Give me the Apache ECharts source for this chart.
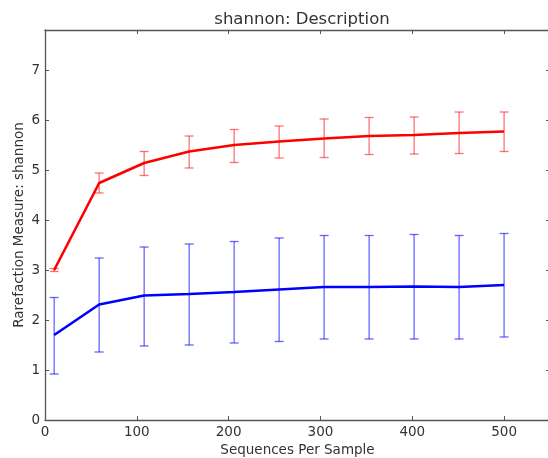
<!DOCTYPE html>
<html><head><meta charset="utf-8">
<script src="https://cdn.jsdelivr.net/npm/echarts@6/dist/echarts.min.js"></script>
<style>html,body{margin:0;padding:0;background:#fff}#c{width:548px;height:458px}</style>
</head><body><div id="c"></div>
<script>
const xs = [10, 59, 108, 157, 206, 255, 304, 353, 402, 451, 500];
const redMean = [3.0, 4.74, 5.14, 5.37, 5.5, 5.57, 5.63, 5.68, 5.7, 5.74, 5.77];
const redLow  = [2.97, 4.54, 4.89, 5.04, 5.15, 5.24, 5.25, 5.31, 5.32, 5.33, 5.37];
const redHigh = [3.03, 4.94, 5.37, 5.68, 5.81, 5.88, 6.02, 6.05, 6.06, 6.16, 6.16];
const blueMean = [1.70, 2.31, 2.49, 2.52, 2.56, 2.61, 2.66, 2.66, 2.67, 2.66, 2.70];
const blueLow  = [0.92, 1.36, 1.48, 1.50, 1.54, 1.57, 1.62, 1.62, 1.62, 1.62, 1.66];
const blueHigh = [2.45, 3.24, 3.46, 3.52, 3.57, 3.64, 3.69, 3.69, 3.71, 3.69, 3.73];

const FONT = 'DejaVu Sans';
const AX = '#555';
const TXT = '#333';
const chart = echarts.init(document.getElementById('c'), null, {renderer: 'canvas'});

function errSeries(low, high, color) {
  return {
    type: 'custom',
    xAxisIndex: 0, yAxisIndex: 0,
    data: xs.map((x, i) => [x, low[i], high[i]]),
    renderItem: function (params, api) {
      const lo = api.coord([api.value(0), api.value(1)]);
      const hi = api.coord([api.value(0), api.value(2)]);
      const w = 4.5;
      const style = {stroke: color, lineWidth: 1.3};
      return {
        type: 'group',
        children: [
          {type: 'line', shape: {x1: lo[0], y1: lo[1], x2: hi[0], y2: hi[1]}, style},
          {type: 'line', shape: {x1: lo[0] - w, y1: lo[1], x2: lo[0] + w, y2: lo[1]}, style},
          {type: 'line', shape: {x1: hi[0] - w, y1: hi[1], x2: hi[0] + w, y2: hi[1]}, style}
        ]
      };
    },
    z: 2,
    silent: true
  };
}
function lineSeries(mean, color) {
  return {
    type: 'line', xAxisIndex: 0, yAxisIndex: 0,
    data: xs.map((x, i) => [x, mean[i]]),
    symbol: 'none', lineStyle: {color: color, width: 2.6}, z: 3, silent: true
  };
}
function axisCommon() {
  return {
    axisLine: {show: true, onZero: false, lineStyle: {color: AX, width: 1.3}},
    axisTick: {show: true, inside: true, length: 4, lineStyle: {color: AX}},
    splitLine: {show: false}
  };
}
chart.setOption({
  animation: false,
  title: {
    text: 'shannon: Description', left: 297, top: 6, textAlign: 'center',
    textStyle: {fontFamily: FONT, fontSize: 16.5, fontWeight: 'normal', color: TXT}
  },
  grid: {left: 45, top: 30, right: -2, bottom: 38, containLabel: false, outerBoundsMode: 'none'},
  xAxis: [
    Object.assign({
      type: 'value', min: 0, max: 550, interval: 100, position: 'bottom',
      name: 'Sequences Per Sample', nameLocation: 'middle', nameGap: 23, nameMoveOverlap: false,
      nameTextStyle: {fontFamily: FONT, fontSize: 13.5, color: TXT},
      axisLabel: {fontFamily: FONT, fontSize: 13.5, color: TXT, margin: 5, showMaxLabel: false}
    }, axisCommon()),
    Object.assign({
      type: 'value', min: 0, max: 550, interval: 100, position: 'top',
      axisLabel: {show: false}
    }, axisCommon())
  ],
  yAxis: [
    Object.assign({
      type: 'value', min: 0, max: 7.8, interval: 1, position: 'left',
      name: 'Rarefaction Measure: shannon', nameLocation: 'middle', nameGap: 19, nameMoveOverlap: false,
      nameTextStyle: {fontFamily: FONT, fontSize: 13.5, color: TXT},
      axisLabel: {fontFamily: FONT, fontSize: 13.5, color: TXT, margin: 5, showMaxLabel: false}
    }, axisCommon()),
    Object.assign({
      type: 'value', min: 0, max: 7.8, interval: 1, position: 'right',
      axisLabel: {show: false}
    }, axisCommon())
  ],
  series: [
    errSeries(redLow, redHigh, 'rgba(255,0,0,0.55)'),
    lineSeries(redMean, '#ff0000'),
    errSeries(blueLow, blueHigh, 'rgba(0,0,255,0.6)'),
    lineSeries(blueMean, '#0000ff')
  ]
});
</script></body></html>
